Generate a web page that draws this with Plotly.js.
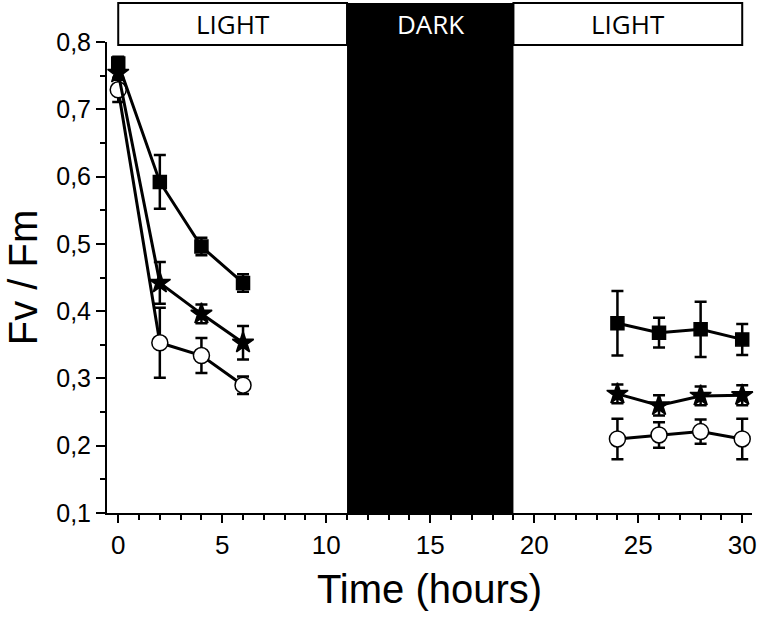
<!DOCTYPE html>
<html>
<head>
<meta charset="utf-8">
<script src="https://cdn.plot.ly/plotly-3.0.1.min.js"></script>
<style>
  html, body { margin: 0; padding: 0; background: #fff; }
  #chart { width: 759px; height: 618px; }
</style>
</head>
<body>
<div id="chart"></div>
<script>
// Time points (hours)
const hours = [0, 2, 4, 6, 24, 26, 28, 30];

// Fv/Fm, filled squares
const squareVals = [0.768, 0.592, 0.496, 0.442, 0.382, 0.368, 0.373, 0.358];
const squareErr = [0.010, 0.040, 0.013, 0.013, 0.048, 0.022, 0.041, 0.023];

// Fv/Fm, stars
const starVals = [0.754, 0.442, 0.396, 0.353, 0.277, 0.260, 0.274, 0.275];
const starErr = [0.010, 0.031, 0.014, 0.025, 0.014, 0.015, 0.014, 0.015];

// Fv/Fm, open circles
const circleVals = [0.729, 0.353, 0.334, 0.290, 0.210, 0.216, 0.221, 0.210];
const circleErr = [0.018, 0.052, 0.026, 0.013, 0.030, 0.019, 0.018, 0.030];

// Light / dark periods (hours)
const periods = [
    { label: 'LIGHT', start: 0, end: 11, dark: false },
    { label: 'DARK', start: 11, end: 19, dark: true },
    { label: 'LIGHT', start: 19, end: 30, dark: false },
];

// the two light phases where data was taken
const segments = [[0, 4], [4, 8]];

const narrowFont = { family: 'Liberation Sans, Arial, sans-serif', stretch: 'condensed', color: '#000' };

function makeTraces(vals, errs, symbol, size, fill) {
    return segments.map(function (seg) {
        return {
            x: hours.slice(seg[0], seg[1]),
            y: vals.slice(seg[0], seg[1]),
            error_y: {
                type: 'data',
                array: errs.slice(seg[0], seg[1]),
                visible: true,
                color: '#000',
                thickness: 2.5,
                width: 6,
            },
            mode: 'lines+markers',
            type: 'scatter',
            line: { color: '#000', width: 3 },
            marker: {
                symbol: symbol,
                size: size,
                color: fill,
                line: { color: '#000', width: 1.5 },
            },
            cliponaxis: false,
            showlegend: false,
        };
    });
}

const traces = [].concat(
    makeTraces(circleVals, circleErr, 'circle', 16, '#fff'),
    makeTraces(starVals, starErr, 'star', 16, '#000'),
    makeTraces(squareVals, squareErr, 'square', 13, '#000')
);

const bandTop = 1.083;
const bandBottom = 0.9936;

const shapes = periods.map(function (p) {
    return {
        type: 'rect',
        xref: 'x',
        yref: 'paper',
        x0: p.start,
        x1: p.end,
        y0: p.dark ? 0 : bandBottom,
        y1: bandTop,
        fillcolor: p.dark ? '#000' : '#fff',
        line: { color: '#000', width: p.dark ? 0 : 2 },
        layer: 'below',
    };
});

const annotations = periods.map(function (p) {
    return {
        x: (p.start + p.end) / 2,
        y: (bandTop + bandBottom) / 2,
        xref: 'x',
        yref: 'paper',
        xanchor: 'center',
        yanchor: 'middle',
        text: p.label,
        showarrow: false,
        font: { family: 'Open Sans, Liberation Sans, sans-serif', stretch: 'condensed', size: 26, color: p.dark ? '#fff' : '#000' },
    };
});

const layout = {
    width: 759,
    height: 618,
    margin: { l: 107, r: 7, t: 42, b: 105 },
    paper_bgcolor: '#fff',
    plot_bgcolor: 'rgba(0,0,0,0)',
    separators: ',.',
    showlegend: false,
    xaxis: {
        range: [-0.54, 30.47],
        tickmode: 'linear',
        tick0: 0,
        dtick: 5,
        ticks: 'outside',
        ticklen: 8,
        tickwidth: 2,
        tickcolor: '#000',
        showline: true,
        linecolor: '#000',
        linewidth: 2,
        showgrid: false,
        zeroline: false,
        minor: { dtick: 1, ticks: 'outside', ticklen: 5, tickwidth: 2, tickcolor: '#000', showgrid: false },
        tickfont: Object.assign({}, narrowFont, { size: 26 }),
        title: {
            text: 'Time (hours)',
            font: Object.assign({}, narrowFont, { size: 40 }),
            standoff: 16,
        },
    },
    yaxis: {
        range: [0.1, 0.8],
        tickmode: 'linear',
        tick0: 0.1,
        dtick: 0.1,
        tickformat: '.1f',
        ticks: 'outside',
        ticklen: 9,
        tickwidth: 2,
        tickcolor: '#000',
        showline: true,
        linecolor: '#000',
        linewidth: 2,
        showgrid: false,
        zeroline: false,
        minor: { dtick: 0.05, ticks: 'outside', ticklen: 5, tickwidth: 2, tickcolor: '#000', showgrid: false },
        tickfont: { family: 'Liberation Sans, Arial, sans-serif', size: 25, color: '#000' },
        title: {
            text: 'Fv / Fm',
            font: { family: 'Liberation Sans, Arial, sans-serif', size: 40, color: '#000' },
            standoff: 6,
        },
    },
    shapes: shapes,
    annotations: annotations,
};

Plotly.newPlot('chart', traces, layout, { displayModeBar: false, staticPlot: true });
</script>
</body>
</html>
